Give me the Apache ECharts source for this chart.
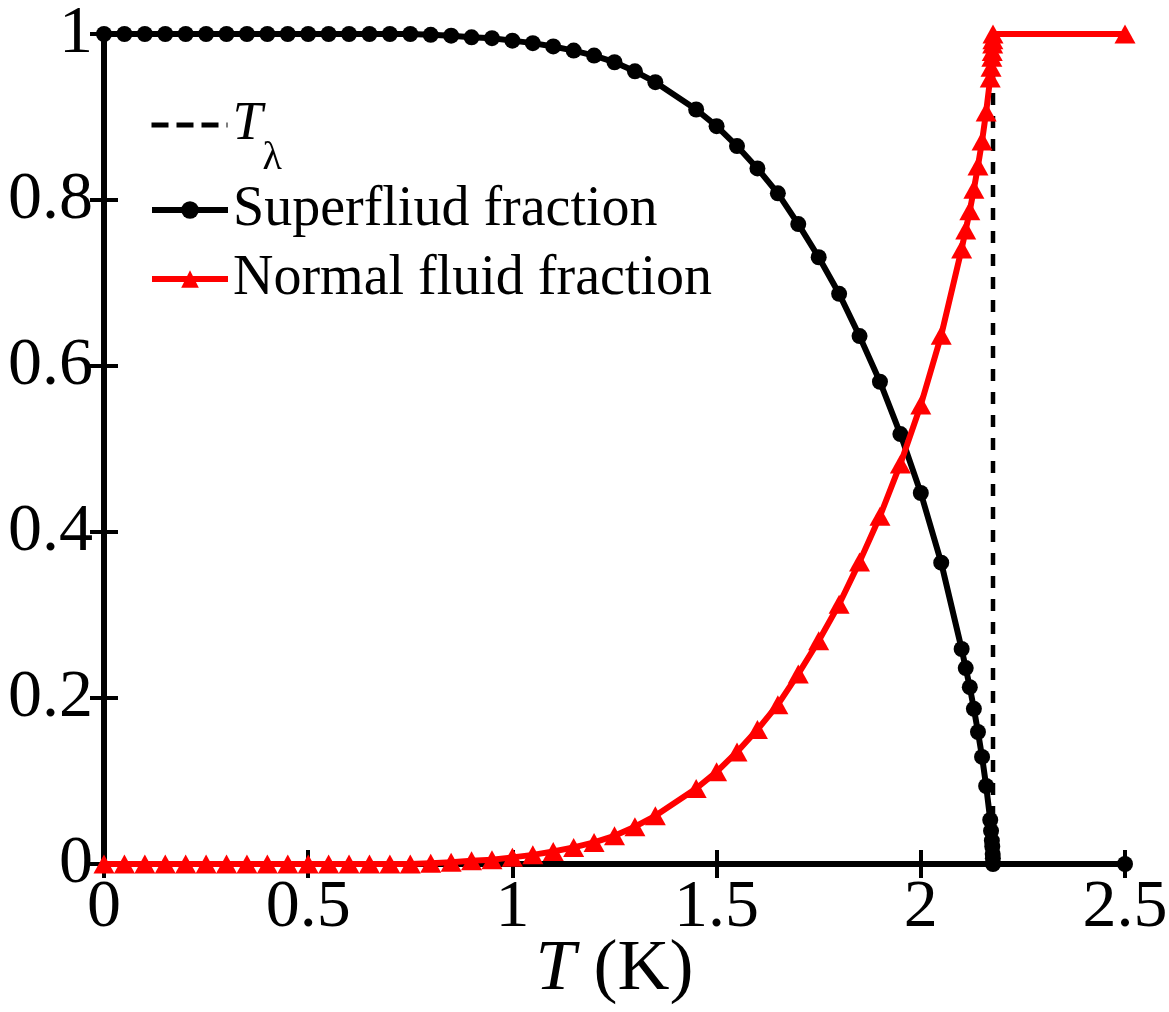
<!DOCTYPE html>
<html>
<head>
<meta charset="utf-8">
<script src="https://cdn.jsdelivr.net/npm/echarts@6/dist/echarts.min.js"></script>
<style>
  html, body { margin: 0; padding: 0; background: #fff; }
  #chart { width: 1169px; height: 1012px; }
</style>
</head>
<body>
<div id="chart"></div>
<script>
// Temperature grid (K) shared by both fractions
const temps = [
  0, 0.05, 0.1, 0.15, 0.2, 0.25, 0.3, 0.35, 0.4, 0.45,
  0.5, 0.55, 0.6, 0.65, 0.7, 0.75, 0.8, 0.85, 0.9, 0.95,
  1.0, 1.05, 1.1, 1.15, 1.2, 1.25, 1.3, 1.35,
  1.45, 1.5, 1.55, 1.6, 1.65, 1.7, 1.75, 1.8, 1.85, 1.9, 1.95, 2.0, 2.05, 2.1,
  2.11, 2.12, 2.13, 2.14, 2.15, 2.16,
  2.17, 2.172, 2.174, 2.175, 2.176, 2.1765, 2.1768,
  2.5
];

// Superfluid fraction rho_s / rho
const superfluid = [
  1, 1, 1, 1, 1, 1, 1, 1, 1, 1,
  1, 1, 1, 1, 1, 1, 0.999, 0.998, 0.996, 0.995,
  0.992, 0.989, 0.985, 0.980, 0.974, 0.966, 0.955, 0.942,
  0.909, 0.889, 0.865, 0.838, 0.808, 0.771, 0.731, 0.687, 0.636, 0.581, 0.518, 0.447, 0.363, 0.259,
  0.236, 0.213, 0.187, 0.159, 0.129, 0.094,
  0.053, 0.040, 0.028, 0.021, 0.012, 0.007, 0,
  0
];

// Normal fluid fraction rho_n / rho
const normalFluid = [
  0, 0, 0, 0, 0, 0, 0, 0, 0, 0,
  0, 0, 0, 0, 0, 0, 0.001, 0.002, 0.004, 0.005,
  0.008, 0.011, 0.015, 0.020, 0.026, 0.034, 0.045, 0.058,
  0.091, 0.111, 0.135, 0.162, 0.192, 0.229, 0.269, 0.313, 0.364, 0.419, 0.482, 0.553, 0.637, 0.741,
  0.764, 0.787, 0.813, 0.841, 0.871, 0.906,
  0.947, 0.960, 0.972, 0.979, 0.988, 0.993, 1,
  1
];

// Lambda point marker line
const lambdaT = [2.1768, 2.1768];
const lambdaY = [0, 1];

const xTickLabels = ['0', '0.5', '1', '1.5', '2', '2.5'];
const yTickLabels = ['0', '0.2', '0.4', '0.6', '0.8', '1'];

const FONT = '"Liberation Serif", "Times New Roman", serif';
const zip = (xs, ys) => xs.map((x, i) => [x, ys[i]]);

const frameLine = { show: true, lineStyle: { color: '#000', width: 6 } };
const frameTick = { show: true, inside: true, length: 14, lineStyle: { color: '#000', width: 4 } };

const legendBase = {
  orient: 'vertical',
  left: 144,
  itemWidth: 76,
  itemHeight: 22,
  itemGap: 0,
  selectedMode: false,
  lineStyle: { width: 6, type: 'inherit' },
  textStyle: { fontFamily: FONT, fontSize: 56, color: '#000' }
};

const chart = echarts.init(document.getElementById('chart'), null, { renderer: 'canvas' });

chart.setOption({
  animation: false,
  backgroundColor: '#fff',
  grid: { left: 104, right: 44, top: 34, bottom: 148, containLabel: false, outerBoundsMode: 'none' },
  xAxis: [
    {
      type: 'value', position: 'bottom', min: 0, max: 2.5, interval: 0.5,
      axisLine: frameLine, axisTick: frameTick, splitLine: { show: false },
      axisLabel: {
        fontFamily: FONT, fontSize: 68, color: '#000', margin: 10,
        formatter: v => xTickLabels[Math.round(v / 0.5)]
      },
      name: '{i|T} (K)',
      nameLocation: 'middle',
      nameGap: 70,
      nameMoveOverlap: false,
      nameTextStyle: {
        fontFamily: FONT, fontSize: 72, color: '#000',
        rich: { i: { fontFamily: FONT, fontSize: 72, fontStyle: 'italic', color: '#000' } }
      }
    },
    {
      type: 'value', position: 'top', min: 0, max: 2.5, interval: 0.5,
      axisLine: frameLine, axisTick: frameTick, splitLine: { show: false },
      axisLabel: { show: false }
    }
  ],
  yAxis: [
    {
      type: 'value', position: 'left', min: 0, max: 1, interval: 0.2,
      axisLine: frameLine, axisTick: frameTick, splitLine: { show: false },
      axisLabel: {
        fontFamily: FONT, fontSize: 68, color: '#000', margin: 11,
        formatter: v => yTickLabels[Math.round(v / 0.2)]
      }
    },
    {
      type: 'value', position: 'right', min: 0, max: 1, interval: 0.2,
      axisLine: frameLine, axisTick: frameTick, splitLine: { show: false },
      axisLabel: { show: false }
    }
  ],
  legend: [
    Object.assign({}, legendBase, {
      top: 93,
      data: [{ name: 'Tλ', itemStyle: { opacity: 0 }, lineStyle: { width: 5, type: [17, 8] } }],
      formatter: () => '{t|T}{s|λ}{g| }',
      textStyle: {
        fontFamily: FONT, fontSize: 56, color: '#000',
        rich: {
          t: { fontFamily: FONT, fontSize: 54, fontStyle: 'italic', color: '#000', lineHeight: 54, verticalAlign: 'middle' },
          s: { fontFamily: FONT, fontSize: 40, color: '#000', lineHeight: 40, verticalAlign: 'bottom' },
          g: { fontFamily: FONT, fontSize: 10, lineHeight: 106 }
        }
      }
    }),
    Object.assign({}, legendBase, { top: 177, data: ['Superfliud fraction'] }),
    Object.assign({}, legendBase, { top: 246, data: ['Normal fluid fraction'] })
  ],
  series: [
    {
      name: 'Tλ',
      type: 'line',
      data: zip(lambdaT, lambdaY),
      symbol: 'none',
      clip: false,
      color: '#000',
      lineStyle: { color: '#000', width: 4.5, type: [12, 11] },
      z: 3
    },
    {
      name: 'Superfliud fraction',
      type: 'line',
      data: zip(temps, superfluid),
      symbol: 'circle',
      symbolSize: 16,
      clip: false,
      color: '#000',
      itemStyle: { color: '#000' },
      lineStyle: { color: '#000', width: 6 },
      z: 4
    },
    {
      name: 'Normal fluid fraction',
      type: 'line',
      data: zip(temps, normalFluid),
      symbol: 'triangle',
      symbolSize: [21, 19],
      clip: false,
      color: '#ff0000',
      itemStyle: { color: '#ff0000' },
      lineStyle: { color: '#ff0000', width: 6 },
      z: 5
    }
  ]
});
</script>
</body>
</html>
